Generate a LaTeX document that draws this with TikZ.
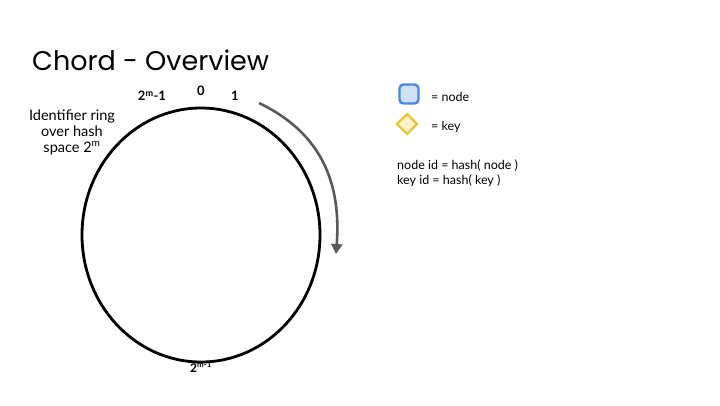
\documentclass[tikz,border=0pt]{standalone}
\usepackage{fontspec}
\setmainfont{Poppins}
\newfontfamily\bodyf{Lato}
\usetikzlibrary{arrows.meta,shapes.geometric}
\begin{document}
\begin{tikzpicture}[x=1pt,y=-1pt,
  lab/.style={font=\bodyf\bfseries\fontsize{13}{14}\selectfont,inner sep=0},
  small/.style={font=\bodyf\fontsize{12.5}{15}\selectfont,inner sep=0}]
\useasboundingbox (0,0) rectangle (720,405);
\node[anchor=west,inner sep=0,font=\fontsize{27}{30}\selectfont] (title) at (32,60) {Chord - Overview};
\draw[line width=2.8pt] (201,235) ellipse [x radius=119, y radius=127];
\node[lab] (zero) at (201,91) {0};
\node[lab] (one) at (235,96) {1};
\node[lab] (mm1) at (152,96) {2\textsuperscript{m}-1};
\node[lab,font=\bodyf\bfseries\fontsize{12}{12}\selectfont] (half) at (201,367) {2\textsuperscript{m-1}};
\node[small,align=center,font=\bodyf\fontsize{14.5}{16}\selectfont] (ring) at (72,132) {Identifier ring\\over hash\\space 2\textsuperscript{m}};
\coordinate (as) at (259,103);
\coordinate (ae) at (336,254);
\draw[line width=2.6pt,draw=black!65,-{Triangle[length=10pt,width=11pt]}] (as) .. controls (315,130) and (342,175) .. (ae);
\node[draw={rgb,255:red,74;green,134;blue,232},fill={rgb,255:red,207;green,226;blue,243},line width=2.4pt,rounded corners=4pt,minimum size=19pt,inner sep=0] (sq) at (409,94) {};
\node[draw={rgb,255:red,241;green,194;blue,50},fill={rgb,255:red,255;green,242;blue,204},line width=2.4pt,diamond,minimum size=21pt,inner sep=0] (dia) at (407,124) {};
\node[small,anchor=west] (tn) at (431,97) {= node};
\node[small,anchor=west] (tk) at (431,127) {= key};
\node[small,anchor=north west,align=left] (ids) at (397,160) {node id = hash( node )\\key id = hash( key )};
\end{tikzpicture}
\end{document}
